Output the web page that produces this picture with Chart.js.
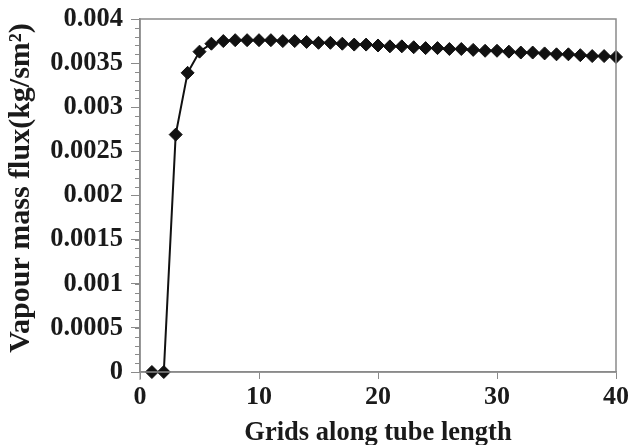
<!DOCTYPE html>
<html>
<head>
<meta charset="utf-8">
<script src="https://cdn.jsdelivr.net/npm/chart.js@4"></script>
<style>
  html, body { margin: 0; padding: 0; background: #fff; }
  #chart { display: block; }
</style>
</head>
<body>
<canvas id="chart" width="628" height="445"></canvas>
<script>
// grid index along the tube
const grids = [1, 2, 3, 4, 5, 6, 7, 8, 9, 10,
    11, 12, 13, 14, 15, 16, 17, 18, 19, 20,
    21, 22, 23, 24, 25, 26, 27, 28, 29, 30,
    31, 32, 33, 34, 35, 36, 37, 38, 39, 40];

// vapour mass flux (kg/sm2)
const vapourFlux = [0, 0, 0.00269, 0.00339, 0.00363, 0.00372, 0.00375, 0.00376, 0.00376, 0.00376,
    0.00376, 0.00375, 0.00375, 0.00374, 0.00373, 0.00373, 0.00372, 0.00371, 0.00371, 0.0037,
    0.00369, 0.00369, 0.00368, 0.00367, 0.00367, 0.00366, 0.00366, 0.00365, 0.00364, 0.00364,
    0.00363, 0.00362, 0.00362, 0.00361, 0.0036, 0.0036, 0.00359, 0.00358, 0.00358, 0.00357];

const xTicks = [0, 10, 20, 30, 40];
const yTicks = [0, 0.0005, 0.001, 0.0015, 0.002, 0.0025, 0.003, 0.0035, 0.004];

const axisColor = '#8a8a8a';
const textColor = '#1a1a1a';
const serif = "'Liberation Serif', 'Times New Roman', serif";

// frame around plot + minor ticks on the y axis
const framePlugin = {
    id: 'frame',
    afterDraw(chart) {
        const { ctx, chartArea, scales } = chart;
        ctx.save();
        ctx.strokeStyle = axisColor;
        ctx.lineWidth = 1.5;
        ctx.strokeRect(chartArea.left, chartArea.top, chartArea.right - chartArea.left, chartArea.bottom - chartArea.top);

        ctx.lineWidth = 1;
        ctx.beginPath();
        for (let v = 0; v <= 0.004 + 1e-9; v += 0.0001) {
            const y = Math.round(scales.y.getPixelForValue(v)) + 0.5;
            ctx.moveTo(chartArea.left - 5, y);
            ctx.lineTo(chartArea.left, y);
        }
        // y axis runs a little below the x axis
        ctx.moveTo(chartArea.left, chartArea.bottom);
        ctx.lineTo(chartArea.left, chartArea.bottom + 8);
        ctx.stroke();
        ctx.restore();
    }
};

const ctx = document.getElementById('chart').getContext('2d');

new Chart(ctx, {
    type: 'line',
    data: {
        labels: grids,
        datasets: [{
            label: 'Vapour mass flux',
            data: grids.map((g, i) => ({ x: g, y: vapourFlux[i] })),
            borderColor: '#111',
            backgroundColor: '#111',
            borderWidth: 2,
            pointStyle: 'rectRot',
            pointRadius: 6.5,
            pointBackgroundColor: '#111',
            pointBorderColor: '#111',
            pointBorderWidth: 1,
            tension: 0,
            clip: false
        }]
    },
    options: {
        responsive: false,
        animation: false,
        devicePixelRatio: 1,
        layout: {
            padding: { top: 19, right: 12, left: 0, bottom: 0 }
        },
        plugins: {
            legend: { display: false },
            tooltip: { enabled: false }
        },
        scales: {
            x: {
                type: 'linear',
                min: 0,
                max: 40,
                afterBuildTicks(scale) {
                    scale.ticks = xTicks.map(v => ({ value: v }));
                },
                afterFit(scale) {
                    scale.height = 73;
                    scale.paddingLeft = 0;
                    scale.paddingRight = 0;
                },
                grid: {
                    drawOnChartArea: false,
                    drawTicks: true,
                    tickLength: 7,
                    color: axisColor,
                    lineWidth: 1
                },
                border: { display: true, color: axisColor, width: 1.5 },
                ticks: {
                    color: textColor,
                    padding: 3,
                    maxRotation: 0,
                    font: { family: serif, size: 26, weight: 'bold' }
                },
                title: {
                    display: true,
                    text: 'Grids along tube length',
                    color: textColor,
                    padding: { top: 0, bottom: -4 },
                    font: { family: serif, size: 26.5, weight: 'bold' }
                }
            },
            y: {
                type: 'linear',
                min: 0,
                max: 0.004,
                afterBuildTicks(scale) {
                    scale.ticks = yTicks.map(v => ({ value: v }));
                },
                afterFit(scale) {
                    scale.width = 140;
                    scale.paddingTop = 0;
                    scale.paddingBottom = 0;
                },
                grid: {
                    drawOnChartArea: false,
                    drawTicks: true,
                    tickLength: 9,
                    color: axisColor,
                    lineWidth: 1
                },
                border: { display: true, color: axisColor, width: 1.5 },
                ticks: {
                    color: textColor,
                    padding: 8,
                    callback: v => String(Number(v.toFixed(4))),
                    font: { family: serif, size: 26.5, weight: 'bold' }
                },
                title: {
                    display: true,
                    text: '  Vapour mass flux(kg/sm²)',
                    color: textColor,
                    padding: { top: 3, bottom: 0 },
                    font: { family: serif, size: 30, weight: 'bold' }
                }
            }
        }
    },
    plugins: [framePlugin]
});
</script>
</body>
</html>
